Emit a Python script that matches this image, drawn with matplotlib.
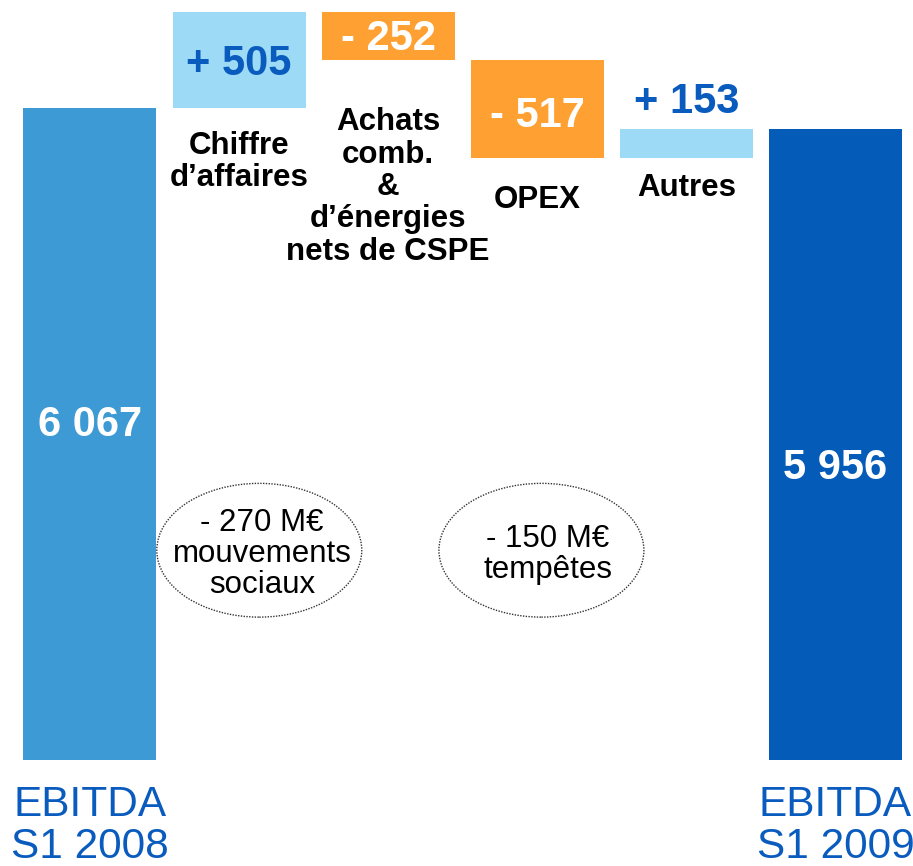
import matplotlib.pyplot as plt
from matplotlib.patches import Ellipse

# Données du graphique (M€)
categories = ["EBITDA\nS1 2008", "Chiffre\nd’affaires", "Achats\ncomb.\n&\nd’énergies\nnets de CSPE",
              "OPEX", "Autres", "EBITDA\nS1 2009"]
ebitda_2008 = 6067
deltas = [505, -252, -517, 153]
ebitda_2009 = 5956
delta_labels = ["+ 505", "- 252", "- 517", "+ 153"]
total_labels = ["6 067", "5 956"]
notes = ["- 270 M€\nmouvements\nsociaux", "- 150 M€\ntempêtes"]

# Couleurs
c_start = "#3D9AD4"
c_end = "#055CB8"
c_up = "#9DDAF5"
c_down = "#FFA033"
c_text_blue = "#0A5BBE"

plt.rcParams['font.family'] = ['Liberation Sans', 'DejaVu Sans']

fig = plt.figure(figsize=(9.13, 8.66), dpi=100)
ax = fig.add_axes([0, 106 / 866, 1, 760 / 866])

width = 0.892

# Barres de total (axe tronqué : l'échelle ne démarre pas à zéro)
ax.bar(0, ebitda_2008, width=width, color=c_start)
ax.bar(5, ebitda_2009, width=width, color=c_end)

# Barres de variation (cascade)
level = ebitda_2008
bottoms = []
for i, d in enumerate(deltas):
    bottom = level if d > 0 else level + d
    color = c_up if d > 0 else c_down
    ax.bar(i + 1, abs(d), bottom=bottom, width=width, color=color)
    bottoms.append(bottom)
    level += d

# Étiquettes des variations
label_dy = [-3, -2, -5]
for i, d in enumerate(deltas):
    x = i + 1
    if i == 3:
        ax.annotate(delta_labels[i], (x, bottoms[i] + abs(d)), xytext=(0, 5), textcoords="offset points",
                    ha="center", va="bottom", fontsize=30, fontweight="bold", color=c_text_blue)
    else:
        color = c_text_blue if d > 0 else "white"
        ax.annotate(delta_labels[i], (x, bottoms[i] + abs(d) / 2), xytext=(0, label_dy[i]),
                    textcoords="offset points", ha="center", va="center",
                    fontsize=30, fontweight="bold", color=color)

# Étiquettes des totaux
tr = ax.get_xaxis_transform()
ax.text(0, 0.441, total_labels[0], transform=tr, ha="center", va="center",
        fontsize=30, fontweight="bold", color="white")
ax.text(5, 0.384, total_labels[1], transform=tr, ha="center", va="center",
        fontsize=30, fontweight="bold", color="white")

# Libellés des catégories intermédiaires
cat_y = [0.787, 0.754, 0.737, 0.753]
for i, y in enumerate(cat_y):
    ax.text(i + 1, y, categories[i + 1], transform=tr, ha="center", va="center",
            fontsize=22.5, fontweight="bold", color="black", linespacing=1.1)

# Ellipses pointillées avec commentaires
ell_pos = [(0.284, 0.276), (0.593, 0.276)]
note_pos = [(0.287, 0.271), (0.600, 0.270)]
for (ex, ey), (tx, ty), note in zip(ell_pos, note_pos, notes):
    ax.add_patch(Ellipse((ex, ey), 0.2245, 0.176, transform=ax.transAxes, fill=False,
                         edgecolor="#333333", linestyle=(0, (1, 1)), linewidth=1))
    ax.text(tx, ty, note, transform=ax.transAxes, ha="center", va="center",
            fontsize=22.5, color="black", linespacing=1.05)

# Axe x : seulement les deux EBITDA
ax.set_xticks([0, 5])
ax.set_xticklabels([categories[0], categories[5]], fontsize=30.5, color=c_text_blue, linespacing=1.07)
ax.tick_params(axis="x", length=0, pad=18)
ax.set_yticks([])

ax.set_xlim(-0.6036, 5.52)
ax.set_ylim(2621, 6638)
for s in ax.spines.values():
    s.set_visible(False)

fig.savefig("out.png", dpi=100)
